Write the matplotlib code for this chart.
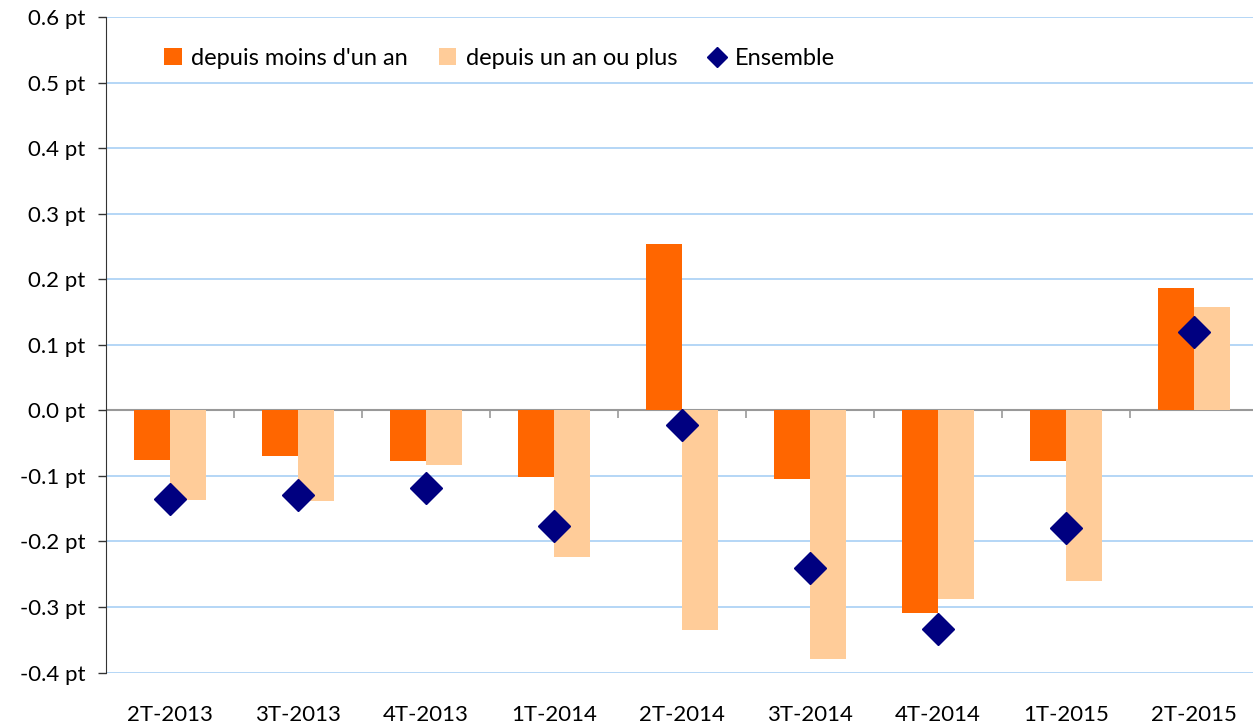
import matplotlib
matplotlib.use('Agg')
import matplotlib.pyplot as plt
import numpy as np

plt.rcParams['font.family'] = ['Lato', 'DejaVu Sans']

categories = ['2T-2013', '3T-2013', '4T-2013', '1T-2014', '2T-2014',
              '3T-2014', '4T-2014', '1T-2015', '2T-2015']
moins_un_an = [-0.075, -0.069, -0.078, -0.101, 0.254, -0.104, -0.309, -0.078, 0.187]
un_an_plus = [-0.136, -0.139, -0.084, -0.223, -0.335, -0.380, -0.287, -0.261, 0.158]
ensemble = [-0.135, -0.129, -0.119, -0.177, -0.023, -0.241, -0.334, -0.180, 0.119]
yticks = [-0.4, -0.3, -0.2, -0.1, 0.0, 0.1, 0.2, 0.3, 0.4, 0.5, 0.6]

W, H = 1253, 726
fig = plt.figure(figsize=(W / 100, H / 100), dpi=100)
ax = fig.add_axes([106 / W, (H - 672.6) / H, (W - 106) / W, (672.6 - 17) / H])

x = np.arange(len(categories))
bw = 0.28
b1 = ax.bar(x - bw / 2, moins_un_an, bw, color='#FF6600', zorder=2,
            label="depuis moins d'un an")
b2 = ax.bar(x + bw / 2, un_an_plus, bw, color='#FFCC99', zorder=2,
            label='depuis un an ou plus')
d, = ax.plot(x, ensemble, 'D', color='#000080', markersize=16, zorder=3,
             linestyle='none', label='Ensemble')

ax.set_ylim(-0.4, 0.6)
ax.set_xlim(-0.5, -0.5 + (W - 106) / 128)
ax.set_yticks(yticks)
ax.set_yticklabels(['%.1f pt' % v for v in yticks], fontsize=16)
ax.yaxis.grid(True, color='#A8D0F5', linewidth=1.2, zorder=0)
ax.set_axisbelow(True)

# zero line with category separators
ax.axhline(0, color='#999999', linewidth=1.5, zorder=1)
ax.vlines(np.arange(0.5, len(categories)), -0.012, 0, color='#999999',
          linewidth=1.2, zorder=1)

ax.set_xticks(x)
ax.set_xticklabels(categories, fontsize=16)
ax.tick_params(axis='x', length=0, pad=23)
ax.tick_params(axis='y', length=6, width=1, color='#333333', pad=9)

for s in ['top', 'right', 'bottom']:
    ax.spines[s].set_visible(False)
ax.spines['left'].set_color('#333333')

ax.legend(handles=[b1, b2, d], loc='upper left', bbox_to_anchor=(0.032, 0.985),
          ncol=3, frameon=False, fontsize=17, handlelength=0.75,
          handleheight=0.75, handletextpad=0.4, columnspacing=1.3,
          markerscale=0.65)

fig.savefig('out.png', dpi=100)
